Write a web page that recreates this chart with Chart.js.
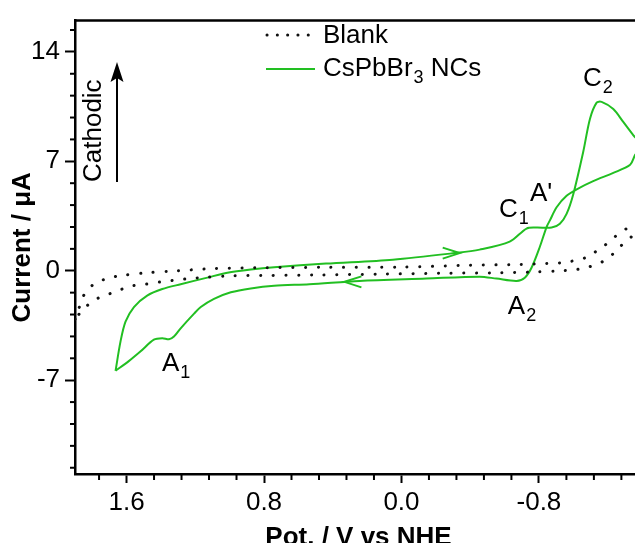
<!DOCTYPE html>
<html><head><meta charset="utf-8">
<script src="https://cdn.jsdelivr.net/npm/chart.js@4/dist/chart.umd.min.js"></script>
<style>
html,body{margin:0;padding:0;width:635px;height:543px;overflow:hidden;background:#fff;}
#wrap{position:absolute;left:0;top:0;width:700px;height:570px;}
</style></head><body>
<div id="wrap"><canvas id="c" width="700" height="570"></canvas></div>
<script>
// ---- data (potential in V vs NHE, current in µA) ----
const blankPot = [1.90, 1.878, 1.849, 1.791, 1.713, 1.626, 1.480, 1.324, 1.110, 0.857, 0.420, 0.011, -0.397, -0.689, -0.845, -0.922, -0.990, -1.068, -1.097, -1.175, -1.243, -1.311, -1.40,
  -1.348, -1.296, -1.233, -1.165, -1.087, -1.020, -0.903, -0.757, -0.572, -0.222, 0.128, 0.478, 0.780, 0.993, 1.139, 1.237, 1.324, 1.402, 1.489, 1.567, 1.635, 1.703, 1.781, 1.849, 1.90];
const blankCur = [-3.1, -2.43, -1.57, -0.86, -0.50, -0.30, -0.13, -0.02, 0.13, 0.19, 0.22, 0.23, 0.35, 0.40, 0.46, 0.50, 0.61, 0.82, 0.99, 1.55, 2.18, 2.70, 3.2,
  2.28, 1.80, 1.09, 0.55, 0.23, 0.08, -0.02, -0.08, -0.13, -0.16, -0.22, -0.27, -0.30, -0.33, -0.42, -0.50, -0.61, -0.71, -0.86, -0.96, -1.21, -1.49, -1.84, -2.43, -3.1];
const ncPot = [1.664, 1.635, 1.606, 1.557, 1.480, 1.392, 1.285, 1.130, 1.013, 0.877, 0.741, 0.439, 0.050, -0.310, -0.455, -0.630, -0.728, -0.786, -0.874, -0.922, -0.961, -1.000, -1.058, -1.097, -1.136, -1.165, -1.233, -1.292, -1.350, -1.40,
  -1.360, -1.331, -1.233, -1.116, -1.020, -0.961, -0.903, -0.864, -0.845, -0.806, -0.757, -0.718, -0.670, -0.553, -0.455, -0.144, 0.245, 0.536, 0.741, 0.877, 0.993, 1.091, 1.168, 1.207, 1.285, 1.324, 1.353, 1.392, 1.441, 1.518, 1.587, 1.664];
const ncCur = [-6.40, -4.52, -3.26, -2.32, -1.59, -1.17, -0.86, -0.44, -0.13, 0.08, 0.23, 0.46, 0.71, 1.13, 1.35, 1.86, 2.70, 2.76, 2.76, 3.01, 3.64, 4.90, 7.61, 9.71, 10.75, 10.80, 10.34, 9.50, 8.66, 8.0,
  7.41, 6.78, 6.26, 5.73, 5.21, 4.79, 4.06, 3.22, 2.81, 1.55, 0.19, -0.44, -0.65, -0.50, -0.38, -0.50, -0.65, -0.86, -0.96, -1.13, -1.38, -1.80, -2.32, -2.74, -3.68, -4.21, -4.38, -4.31, -4.41, -5.15, -5.78, -6.40];
const xTicks = [1.6, 0.8, 0.0, -0.8];
const yTicks = [-7, 0, 7, 14];
// peak labels: [main, subscript, potential, current] (text anchor, left/baseline)
const peakLabels = [['C', '2', -1.056, 11.80], ['C', '1', -0.567, 3.45], ["A'", '', -0.748, 4.46], ['A', '2', -0.619, -2.74], ['A', '1', 1.394, -6.40]];
// scan-direction arrows: [potential, current, direction (+1 = towards negative potential)]
const scanArrows = [[-0.339, 1.13, 1], [0.332, -0.71, -1]];

const FAM = '"Liberation Sans", Arial, sans-serif';
const GREEN = '#22bf22';
const font26 = {family: FAM, size: 26};

const extras = {
  id: 'extras',
  afterDraw(chart) {
    const {ctx, chartArea: ca, scales: {x, y}} = chart;
    ctx.save();
    // top frame line
    ctx.strokeStyle = '#000'; ctx.lineWidth = 2.5;
    ctx.beginPath(); ctx.moveTo(ca.left - 1, ca.top); ctx.lineTo(ca.right + 2, ca.top); ctx.stroke();
    // minor ticks
    ctx.lineWidth = 2;
    for (let i = -9; i <= 11; i++) {
      const v = i * 0.16;
      if (Math.abs(v / 0.8 - Math.round(v / 0.8)) < 1e-6) continue;
      if (v < -1.4 || v > 1.9) continue;
      const px = x.getPixelForValue(v);
      ctx.beginPath(); ctx.moveTo(px, ca.bottom); ctx.lineTo(px, ca.bottom + 6); ctx.stroke();
    }
    for (let i = -9; i <= 11; i++) {
      const v = i * 1.4;
      if (i % 5 === 0) continue;
      if (v < -13 || v > 16) continue;
      const py = y.getPixelForValue(v);
      ctx.beginPath(); ctx.moveTo(ca.left, py); ctx.lineTo(ca.left - 5, py); ctx.stroke();
    }
    // scan arrows
    ctx.strokeStyle = GREEN; ctx.lineWidth = 2;
    scanArrows.forEach(([p, c, d]) => {
      const tx = x.getPixelForValue(p), ty = y.getPixelForValue(c);
      ctx.beginPath();
      ctx.moveTo(tx - d * 17, ty - 5.5); ctx.lineTo(tx, ty); ctx.lineTo(tx - d * 17, ty + 5.5);
      ctx.stroke();
    });
    // peak labels
    ctx.fillStyle = '#000'; ctx.textBaseline = 'alphabetic'; ctx.textAlign = 'left';
    peakLabels.forEach(([m, s, p, c]) => {
      const lx = x.getPixelForValue(p), ly = y.getPixelForValue(c);
      ctx.font = '26px ' + FAM;
      ctx.fillText(m, lx, ly);
      const w = ctx.measureText(m).width;
      if (s) { ctx.font = '18px ' + FAM; ctx.fillText(s, lx + w + 1, ly + 7); }
    });
    // legend
    ctx.strokeStyle = '#111'; ctx.lineWidth = 3; ctx.lineCap = 'round';
    ctx.setLineDash([0.1, 10.2]);
    ctx.beginPath(); ctx.moveTo(267, 35); ctx.lineTo(310, 35); ctx.stroke();
    ctx.setLineDash([]); ctx.lineCap = 'butt';
    ctx.strokeStyle = GREEN; ctx.lineWidth = 2;
    ctx.beginPath(); ctx.moveTo(266, 69); ctx.lineTo(315, 69); ctx.stroke();
    ctx.font = '26px ' + FAM;
    ctx.fillText('Blank', 323, 43);
    ctx.fillText('CsPbBr', 323, 76);
    let wx = 323 + ctx.measureText('CsPbBr').width + 1;
    ctx.font = '18px ' + FAM; ctx.fillText('3', wx, 83);
    wx += ctx.measureText('3').width;
    ctx.font = '26px ' + FAM; ctx.fillText(' NCs', wx, 76);
    // Cathodic label and arrow
    ctx.save();
    ctx.translate(101, 182); ctx.rotate(-Math.PI / 2);
    ctx.fillText('Cathodic', 0, 0);
    ctx.restore();
    ctx.strokeStyle = '#000'; ctx.lineWidth = 2;
    ctx.beginPath(); ctx.moveTo(117, 182); ctx.lineTo(117, 76); ctx.stroke();
    ctx.fillStyle = '#000';
    ctx.beginPath(); ctx.moveTo(117, 62); ctx.lineTo(110.5, 82); ctx.lineTo(117, 78); ctx.lineTo(123.5, 82); ctx.closePath(); ctx.fill();
    ctx.restore();
  }
};

new Chart(document.getElementById('c'), {
  type: 'scatter',
  data: {
    datasets: [
      {label: 'Blank', data: blankPot.map((v, i) => ({x: v, y: blankCur[i]})), showLine: true,
       borderColor: '#111', borderWidth: 3, borderDash: [0.1, 12.6], borderCapStyle: 'round',
       pointRadius: 0, tension: 0.3, fill: false},
      {label: 'CsPbBr3 NCs', data: ncPot.map((v, i) => ({x: v, y: ncCur[i]})), showLine: true,
       borderColor: GREEN, borderWidth: 2, pointRadius: 0, tension: 0.3, fill: false}
    ]
  },
  options: {
    responsive: false, animation: false, devicePixelRatio: 1,
    layout: {padding: {left: 0, top: 13.5, right: 58, bottom: 0}},
    plugins: {legend: {display: false}, tooltip: {enabled: false}},
    scales: {
      x: {
        type: 'linear', reverse: true, min: -1.4, max: 1.9,
        afterBuildTicks: s => { s.ticks = xTicks.map(v => ({value: v})); },
        afterFit: s => { s.height = 96; },
        ticks: {callback: v => (Math.abs(v) < 1e-9 ? 0 : v).toFixed(1), font: font26, color: '#000', padding: 4, maxRotation: 0, autoSkip: false},
        grid: {drawOnChartArea: false, drawTicks: true, tickLength: 9, tickWidth: 2, tickColor: '#000'},
        border: {display: true, color: '#000', width: 2.5},
        title: {display: true, text: 'Pot. / V vs NHE', color: '#000', font: {family: FAM, size: 26, weight: 'bold'}, padding: {top: 0, bottom: 17}}
      },
      y: {
        type: 'linear', min: -13, max: 16,
        afterBuildTicks: s => { s.ticks = yTicks.map(v => ({value: v})); },
        afterFit: s => { s.width = 75; },
        ticks: {callback: v => String(v), font: font26, color: '#000', padding: 5, autoSkip: false},
        grid: {drawOnChartArea: false, drawTicks: true, tickLength: 10, tickWidth: 2, tickColor: '#000'},
        border: {display: true, color: '#000', width: 2.5},
        title: {display: true, text: 'Current / μA', color: '#000', font: {family: FAM, size: 26, weight: 'bold'}, padding: {top: 7, bottom: 0}}
      }
    }
  },
  plugins: [extras]
});
</script>
</body></html>
